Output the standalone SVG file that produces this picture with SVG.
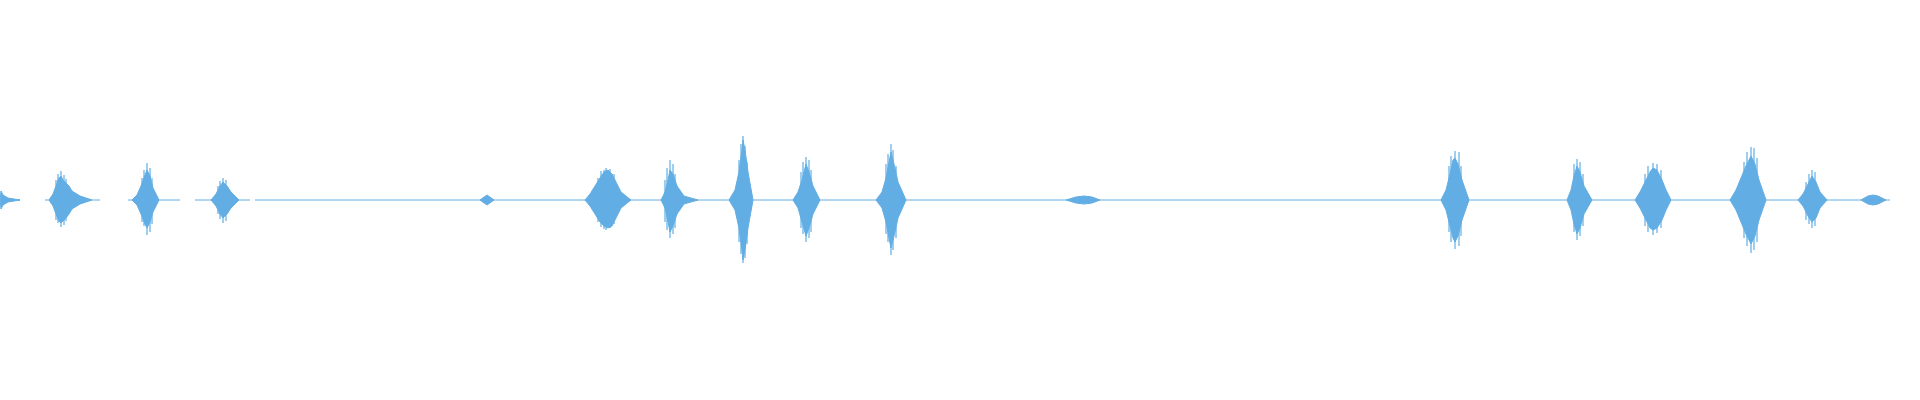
<svg xmlns="http://www.w3.org/2000/svg" width="1920" height="400" viewBox="0 0 1920 400">
<style>
.b{fill:#62aee4;stroke:#62aee4;stroke-width:1;stroke-linejoin:round}
.s{stroke:#62aee4;stroke-width:1.2;fill:none}
.base{stroke:#62aee4;stroke-width:1;fill:none}
</style>
<rect width="1920" height="400" fill="#ffffff"/>
<path class="base" d="M0 200 H20 M45 200 H100 M128 200 H180 M195 200 H250 M255 200 H1890"/>
<g id="bursts">
<path class="b" d="M0 200 L1 191 L3 195 L8 198 L20 200 L8 202 L3 205 L1 209 Z"/>
<path class="b" d="M49 200 L53 194 L56 186 L59 178 L61 176 L63 180 L66 183 L69 186 L72 191 L80 196 L92 200 L80 204 L72 209 L69 214 L66 218 L63 221 L61 223 L59 221 L56 214 L53 206 Z"/>
<path class="s" d="M61 171 V227 M58 174 V223 M64 175 V225 M66 179 V221 M56 180 V220"/>
<path class="b" d="M132 200 L137 195 L141 186 L145 175 L147 170 L150 176 L153 188 L159 200 L153 212 L150 222 L147 228 L145 224 L141 214 L137 205 Z"/>
<path class="s" d="M147 163 V235 M144 170 V226 M150 168 V232 M142 178 V222 M152 178 V224"/>
<path class="b" d="M211 200 L216 194 L220 186 L223 182 L227 186 L231 192 L239 200 L231 208 L227 214 L223 218 L220 214 L216 206 Z"/>
<path class="s" d="M223 178 V223 M220 181 V219 M226 180 V221 M218 186 V214"/>
<path class="b" d="M480 200 L487 195 L494 200 L487 205 Z"/>
<path class="b" d="M585 200 L590 194 L595 186 L600 178 L604 172 L608 170 L612 174 L616 182 L621 192 L631 200 L621 208 L616 218 L612 226 L608 228 L604 226 L600 222 L595 214 L590 206 Z"/>
<path class="s" d="M606 168 V230 M601 171 V227 M610 169 V228 M614 174 V224 M598 178 V222 M604 170 V229"/>
<path class="b" d="M661 200 L665 192 L668 180 L670 170 L673 174 L677 186 L684 196 L698 200 L684 204 L677 214 L673 226 L670 232 L668 222 L665 208 Z"/>
<path class="s" d="M670 160 V238 M667 168 V230 M673 164 V234 M675 174 V228 M665 180 V222"/>
<path class="b" d="M729 200 L735 190 L739 172 L742 150 L743 140 L745 150 L748 172 L753 200 L748 228 L745 250 L743 260 L742 250 L739 228 L735 210 Z"/>
<path class="s" d="M743 136 V263 M741 144 V254 M745 146 V258 M739 160 V242 M747 162 V244"/>
<path class="b" d="M793 200 L798 192 L802 180 L806 164 L809 172 L813 186 L820 200 L813 214 L809 228 L806 236 L802 222 L798 208 Z"/>
<path class="s" d="M806 157 V242 M803 162 V234 M809 160 V238 M801 172 V228 M811 170 V232"/>
<path class="b" d="M876 200 L882 192 L886 178 L889 162 L891 152 L894 164 L898 182 L906 200 L898 218 L894 236 L891 248 L889 238 L886 222 L882 208 Z"/>
<path class="s" d="M891 144 V255 M888 154 V242 M893 150 V250 M886 164 V234 M896 166 V238"/>
<path class="b" d="M1066 200 L1076 197 L1084 196 L1092 197 L1100 200 L1092 203 L1084 204 L1076 203 Z"/>
<path class="b" d="M1441 200 L1446 190 L1450 174 L1453 160 L1455 158 L1458 164 L1462 180 L1469 200 L1462 220 L1458 236 L1455 242 L1453 238 L1450 226 L1446 210 Z"/>
<path class="s" d="M1455 151 V249 M1451 156 V242 M1459 152 V246 M1461 166 V236 M1449 166 V232"/>
<path class="b" d="M1567 200 L1571 190 L1574 176 L1577 166 L1580 172 L1584 186 L1592 200 L1584 214 L1580 228 L1577 234 L1574 224 L1571 210 Z"/>
<path class="s" d="M1577 159 V240 M1574 164 V232 M1580 162 V236 M1583 174 V226"/>
<path class="b" d="M1635 200 L1640 192 L1645 182 L1650 172 L1653 168 L1657 170 L1662 180 L1666 190 L1671 200 L1666 210 L1662 220 L1657 228 L1653 230 L1650 228 L1645 218 L1640 208 Z"/>
<path class="s" d="M1653 163 V235 M1648 166 V232 M1657 164 V233 M1661 170 V228 M1645 174 V226"/>
<path class="b" d="M1730 200 L1736 190 L1741 178 L1746 166 L1751 156 L1755 164 L1759 180 L1766 200 L1759 220 L1755 236 L1751 244 L1746 234 L1741 222 L1736 210 Z"/>
<path class="s" d="M1751 147 V253 M1747 152 V246 M1754 148 V250 M1744 162 V238 M1757 158 V242"/>
<path class="b" d="M1798 200 L1803 194 L1808 184 L1812 176 L1816 182 L1820 192 L1827 200 L1820 208 L1816 218 L1812 222 L1808 216 L1803 206 Z"/>
<path class="s" d="M1812 170 V228 M1809 174 V224 M1815 172 V226 M1806 182 V220"/>
<path class="b" d="M1861 200 L1868 196 L1873 195 L1878 196 L1886 200 L1878 204 L1873 205 L1868 204 Z"/>
</g>
</svg>
